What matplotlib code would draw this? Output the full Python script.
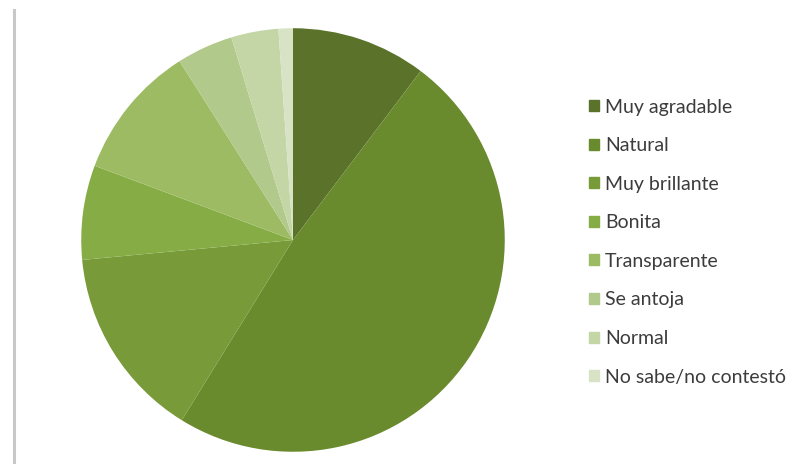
import matplotlib.pyplot as plt
from matplotlib.lines import Line2D

categories = ['Muy agradable', 'Natural', 'Muy brillante', 'Bonita',
              'Transparente', 'Se antoja', 'Normal', 'No sabe/no contestó']
values = [10.3, 48.5, 14.7, 7.2, 10.3, 4.3, 3.6, 1.1]
colors = ['#5a7229', '#6a8a2e', '#789a38', '#86ad45',
          '#9dbb62', '#b1c98b', '#c4d6a6', '#d7e3c4']

plt.rcParams['font.family'] = ['Lato', 'DejaVu Sans']

fig = plt.figure(figsize=(8.03, 4.67), dpi=100)

# pie area
ax = fig.add_axes([(293 - 216) / 803, (467 - 240 - 216) / 467, 432 / 803, 432 / 467])
ax.pie(values, colors=colors, startangle=90, counterclock=False, radius=1.0,
       wedgeprops=dict(linewidth=0))
ax.set_xlim(-1.02, 1.02)
ax.set_ylim(-1.02, 1.02)
ax.set_aspect('equal')
ax.axis('off')

# thin frame line on the left
fig.add_artist(Line2D([14 / 803, 14 / 803], [1 - 10 / 467, 1 - 462 / 467],
                      color='#c8c8c8', linewidth=2.2))

handles = [plt.Rectangle((0, 0), 1, 1, color=c) for c in colors]
leg = fig.legend(handles, categories, loc='upper left',
                 bbox_to_anchor=(572 / 803, 1 - 81 / 467),
                 frameon=False, fontsize=14, handlelength=0.5, handleheight=0.5,
                 handletextpad=0.3, labelspacing=1.11, labelcolor='#3c3c3c')

fig.savefig('out.png', dpi=100, facecolor='white')
